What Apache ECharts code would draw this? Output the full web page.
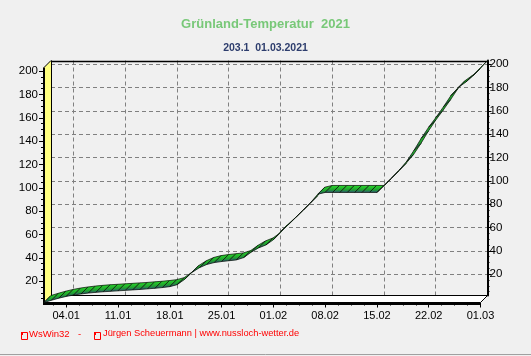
<!DOCTYPE html>
<html><head><meta charset="utf-8">
<script src="https://cdn.jsdelivr.net/npm/echarts@6/dist/echarts.min.js"></script>
<style>html,body{margin:0;padding:0;background:#f0f0f0}#c{width:531px;height:356px}</style>
</head><body><div id="c"></div><script>
// ---- data ----
const dates = ['01.01','02.01','03.01','04.01','05.01','06.01','07.01','08.01','09.01','10.01',
 '11.01','12.01','13.01','14.01','15.01','16.01','17.01','18.01','19.01','20.01',
 '21.01','22.01','23.01','24.01','25.01','26.01','27.01','28.01','29.01','30.01','31.01',
 '01.02','02.02','03.02','04.02','05.02','06.02','07.02','08.02','09.02','10.02',
 '11.02','12.02','13.02','14.02','15.02','16.02','17.02','18.02','19.02','20.02',
 '21.02','22.02','23.02','24.02','25.02','26.02','27.02','28.02','01.03'];
const values = [1.7,3.6,5.4,6.9,8.1,9.0,9.8,10.4,10.9,11.3,
 11.7,12.1,12.5,12.9,13.4,13.9,14.5,15.3,17.0,21.5,
 27.5,31.5,34.3,35.9,36.8,37.5,38.2,40.2,44.8,48.5,51.0,
 55.5,62.5,68.2,74.4,80.6,87.0,94.5,96.0,96.0,96.0,
 96.0,96.0,96.0,96.0,96.0,102.0,108.5,115.0,122.5,132.0,
 142.5,152.0,160.5,169.5,179.0,186.0,190.5,196.0,203.1];
const tickLabels = ['04.01','11.01','18.01','25.01','01.02','08.02','15.02','22.02','01.03'];
const yTickLabels = [20,40,60,80,100,120,140,160,180,200];
const titleText = 'Grünland-Temperatur  2021';
const subText = '203.1  01.03.2021';
const footerA = 'WsWin32';
const footerB = 'Jürgen Scheuermann | www.nussloch-wetter.de';

// ---- layout ----
const majorDays = tickLabels.map(t => dates.indexOf(t));
const minorX = [];
for (let v = majorDays[0] - 1.75; v <= 59.001; v += 1.75) {
  if (!majorDays.some(m => Math.abs(m - v) < 0.01) && v >= 0) minorX.push(v);
}
const yMinor = [];
for (let v = 5; v <= 200; v += 5) if (v % 20 !== 0) yMinor.push(v);
const YMIN = Math.min(...values), YMAX = Math.max(...values);
const XMAX = dates.length - 1;
const FRONT = {left: 44, top: 67.5, width: 436.5, height: 235};
const DX = 7, DY = -7;
const BACK = {left: FRONT.left + DX, top: FRONT.top + DY, width: FRONT.width, height: FRONT.height};
const FONT = 'Liberation Sans';
const fmtX = v => tickLabels[majorDays.indexOf(Math.round(v))];

const grad = {type: 'linear', x: 0, y: 0, x2: 0, y2: 1,
  colorStops: [{offset: 0, color: '#28e028'}, {offset: 0.6, color: '#20a030'}, {offset: 1, color: '#304a80'}]};

const chart = echarts.init(document.getElementById('c'), null, {renderer: 'canvas'});
chart.setOption({
  animation: false,
  backgroundColor: '#f0f0f0',
  title: [
    {text: titleText, left: 'center', top: 13,
     textStyle: {color: '#78c878', fontSize: 13, fontWeight: 'bold', fontFamily: FONT}},
    {text: subText, left: 'center', top: 38,
     textStyle: {color: '#2d3d6d', fontSize: 10.5, fontWeight: 'bold', fontFamily: FONT}}
  ],
  grid: [
    Object.assign({containLabel: false}, FRONT),
    Object.assign({containLabel: false}, BACK)
  ],
  xAxis: [
    {gridIndex: 0, type: 'value', position: 'bottom', min: 0, max: XMAX,
     axisLine: {show: false, onZero: false},
     axisTick: {customValues: majorDays, length: 5, lineStyle: {color: '#000', width: 1}},
     axisLabel: {customValues: majorDays, formatter: fmtX, color: '#000', fontSize: 11, fontFamily: FONT, margin: 8},
     splitLine: {show: false}},
    {gridIndex: 0, type: 'value', position: 'bottom', min: 0, max: XMAX,
     axisLine: {show: false, onZero: false},
     axisTick: {customValues: minorX, length: 3, lineStyle: {color: '#000', width: 1}},
     axisLabel: {show: false}, splitLine: {show: false}},
    {gridIndex: 1, type: 'value', position: 'bottom', min: 0, max: XMAX,
     axisLine: {show: false, onZero: false},
     axisTick: {show: false, customValues: majorDays.slice(0, -1)},
     axisLabel: {show: false},
     splitLine: {show: true, lineStyle: {color: '#808080', width: 1, type: [4, 3]}}}
  ],
  yAxis: [
    {gridIndex: 0, type: 'value', position: 'left', min: YMIN, max: YMAX,
     axisLine: {show: false, onZero: false},
     axisTick: {show: true, customValues: yTickLabels, length: 5, lineStyle: {color: '#000'}},
     axisLabel: {customValues: yTickLabels, color: '#000', fontSize: 11.5, fontFamily: FONT, margin: 6},
     splitLine: {show: false}},
    {gridIndex: 0, type: 'value', position: 'left', min: YMIN, max: YMAX,
     axisLine: {show: false, onZero: false},
     axisTick: {show: true, customValues: yMinor, length: 3, lineStyle: {color: '#000'}},
     axisLabel: {show: false}, splitLine: {show: false}},
    {gridIndex: 1, type: 'value', position: 'right', min: YMIN, max: YMAX,
     axisLine: {show: true, onZero: false, lineStyle: {color: '#000', width: 2}},
     axisTick: {show: true, customValues: yTickLabels, length: 4, lineStyle: {color: '#000'}},
     axisLabel: {customValues: yTickLabels, color: '#000', fontSize: 11.5, fontFamily: FONT, margin: 2},
     splitLine: {show: true, lineStyle: {color: '#808080', width: 1, type: [4, 3]}}},
    {gridIndex: 1, type: 'value', position: 'right', min: YMIN, max: YMAX,
     axisLine: {show: false, onZero: false},
     axisTick: {show: true, customValues: yMinor, length: 2, lineStyle: {color: '#000'}},
     axisLabel: {show: false}, splitLine: {show: false}}
  ],
  series: [
    {type: 'custom', name: 'walls', xAxisIndex: 0, yAxisIndex: 0, z: 1, silent: true, clip: false,
     data: [[0]],
     renderItem(params, api) {
       const fl = api.coord([0, YMIN]), fr = api.coord([XMAX, YMIN]);
       const tl = api.coord([0, YMAX]), tr = api.coord([XMAX, YMAX]);
       const o = p => [p[0] + DX, p[1] + DY];
       return {type: 'group', children: [
         {type: 'polygon', shape: {points: [fl.slice(), fr.slice(), o(fr), o(fl)]},
          style: {fill: '#ffffff', stroke: null}},
         {type: 'polygon', shape: {points: [fl.slice(), tl.slice(), o(tl), o(fl)]},
          style: {fill: '#ffff80', stroke: null}},
         {type: 'polyline', shape: {points: [[fl[0] + DX, Math.round(fl[1] + DY) - 0.5], [fr[0] + DX, Math.round(fr[1] + DY) - 0.5]]},
          style: {stroke: '#000', lineWidth: 1, fill: null}},
         {type: 'polyline', shape: {points: [[Math.round(tl[0] + DX) + 0.5, tl[1] + DY], [Math.round(fl[0] + DX) + 0.5, fl[1] + DY]]},
          style: {stroke: '#000', lineWidth: 1, fill: null}},
         {type: 'polyline', shape: {points: [tl.slice(), o(tl)]},
          style: {stroke: '#000', lineWidth: 1, fill: null}},
         {type: 'polyline', shape: {points: [fl.slice(), o(fl)]},
          style: {stroke: '#000', lineWidth: 1, fill: null}},
         {type: 'polyline', shape: {points: [fr.slice(), o(fr)]},
          style: {stroke: '#000', lineWidth: 1, fill: null}},
         {type: 'polyline', shape: {points: [[tl[0] + DX, Math.round(tl[1] + DY) + 0.5], [tr[0] + DX + 1, Math.round(tr[1] + DY) + 0.5]]},
          style: {stroke: '#000', lineWidth: 1.5, fill: null}},
         {type: 'polyline', shape: {points: [[fl[0] - 1, Math.round(fl[1]) + 0.5], [fr[0], Math.round(fr[1]) + 0.5]]},
          style: {stroke: '#000', lineWidth: 3, fill: null}},
         {type: 'polyline', shape: {points: [[Math.round(tl[0]), tl[1]], [Math.round(fl[0]), fl[1] + 1]]},
          style: {stroke: '#000', lineWidth: 2, fill: null}}
       ]};
     }},
    {type: 'custom', name: 'Grünland-Temperatur', xAxisIndex: 0, yAxisIndex: 0, z: 3, silent: true, clip: false,
     data: values.slice(0, -1).map((v, i) => [i, v, i + 1, values[i + 1]]),
     renderItem(params, api) {
       const p0 = api.coord([api.value(0), api.value(1)]);
       const p1 = api.coord([api.value(2), api.value(3)]);
       const pts = [p0, p1, [p1[0] + DX, p1[1] + DY], [p0[0] + DX, p0[1] + DY]];
       return {type: 'polygon', shape: {points: pts},
         style: {fill: grad, stroke: '#0a140a', lineWidth: 0.75}};
     }}
  ],
  graphic: [
    {type: 'rect', left: 19, top: 330, shape: {width: 6, height: 7}, style: {fill: 'none', stroke: '#ff0000', lineWidth: 1}},
    {type: 'rect', left: 21, top: 332, shape: {width: 2, height: 3}, style: {fill: '#ff0000'}},
    {type: 'text', left: 29, top: 329, style: {text: footerA, fill: '#ff0000', font: '9.5px ' + FONT}},
    {type: 'text', left: 78, top: 329, style: {text: '-', fill: '#ff0000', font: '9.5px ' + FONT}},
    {type: 'rect', left: 92, top: 330, shape: {width: 6, height: 7}, style: {fill: 'none', stroke: '#ff0000', lineWidth: 1}},
    {type: 'rect', left: 94, top: 332, shape: {width: 2, height: 3}, style: {fill: '#ff0000'}},
    {type: 'text', left: 103, top: 329, style: {text: footerB, fill: '#ff0000', font: '9.3px ' + FONT}},
    {type: 'line', shape: {x1: 0, y1: 354.5, x2: 531, y2: 354.5}, style: {stroke: '#a0a0a0', lineWidth: 1}}
  ]
});
</script></body></html>
